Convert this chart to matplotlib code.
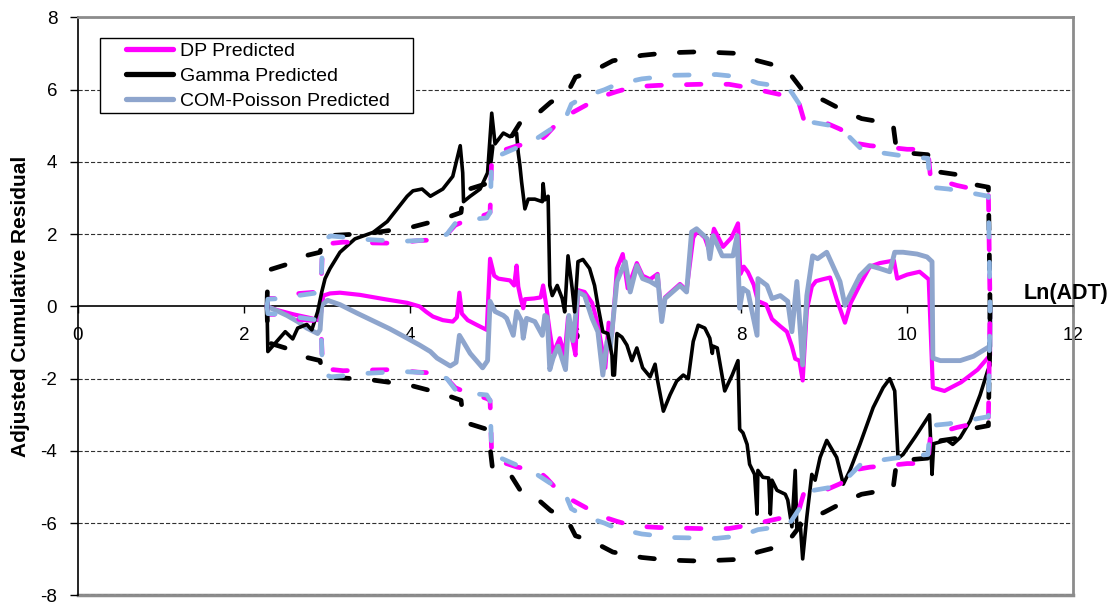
import matplotlib
matplotlib.use("Agg")
import matplotlib.pyplot as plt
from matplotlib.lines import Line2D
from matplotlib.patches import Rectangle
import numpy as np

plt.rcParams["font.family"] = ["Liberation Sans", "DejaVu Sans"]
plt.rcParams["axes.unicode_minus"] = False
plt.rcParams["lines.scale_dashes"] = False

# ---- Adjusted cumulative residuals vs Ln(ADT) ----
dp_x = [2.28, 2.40, 2.60, 2.80, 2.90, 2.93, 2.96, 3.04, 3.16, 3.40, 3.70, 3.97, 4.12, 4.20,
        4.28, 4.40, 4.52, 4.57, 4.60, 4.63, 4.70, 4.80, 4.93, 4.97, 5.02, 5.07, 5.21, 5.26,
        5.29, 5.31, 5.34, 5.37, 5.39, 5.50, 5.58, 5.61, 5.64, 5.69, 5.73, 5.81, 5.87, 5.91,
        5.96, 6.00, 6.03, 6.11, 6.20, 6.27, 6.36, 6.40, 6.44, 6.50, 6.57, 6.63, 6.74, 6.81,
        6.90, 6.99, 7.04, 7.08, 7.26, 7.34, 7.42, 7.47, 7.56, 7.62, 7.67, 7.78, 7.88, 7.96,
        7.99, 8.03, 8.08, 8.15, 8.20, 8.30, 8.37, 8.47, 8.55, 8.61, 8.65, 8.70, 8.74, 8.79,
        8.85, 8.90, 8.98, 9.07, 9.15, 9.25, 9.32, 9.43, 9.55, 9.67, 9.84, 9.88, 10.00, 10.15,
        10.26, 10.31, 10.45, 10.65, 10.85, 11.00, 11.00]
dp_y = [0.00, -0.10, -0.22, -0.32, -0.38, -0.20, 0.30, 0.36, 0.38, 0.32, 0.20, 0.10, 0.00, -0.15,
        -0.28, -0.38, -0.42, -0.30, 0.38, -0.20, -0.38, -0.50, -0.65, 1.32, 0.85, 0.77, 0.72, 0.58,
        1.13, 0.55, 0.22, -0.05, 0.20, 0.22, 0.25, 0.58, 0.14, -0.70, -1.30, -0.88, -1.35, -0.30,
        -0.90, -1.35, 0.45, 0.40, 0.10, -0.50, -1.70, -0.45, -0.80, 1.05, 1.45, 0.50, 1.20, 0.85,
        0.75, 0.90, -0.35, 0.25, 0.62, 0.45, 1.90, 2.10, 1.90, 1.50, 2.15, 1.65, 1.90, 2.30,
        0.90, 1.10, 0.95, 0.60, 0.15, 0.05, -0.35, -0.55, -0.70, -1.10, -1.45, -1.50, -2.05, -0.10,
        0.55, 0.70, 0.75, 0.80, 0.20, -0.45, 0.10, 0.60, 1.10, 1.20, 1.27, 0.77, 0.88, 0.96,
        0.75, -2.25, -2.34, -2.10, -1.75, -1.35, 0.00]

gamma_x = [2.28, 2.29, 2.50, 2.59, 2.65, 2.76, 2.82, 2.89, 2.94, 2.98, 3.04, 3.16, 3.34, 3.56,
           3.73, 3.97, 4.04, 4.15, 4.25, 4.40, 4.52, 4.61, 4.64, 4.65, 4.73, 4.85, 4.94, 4.99,
           5.03, 5.13, 5.21, 5.29, 5.31, 5.33, 5.35, 5.39, 5.43, 5.51, 5.60, 5.61, 5.63, 5.67,
           5.69, 5.72, 5.78, 5.84, 5.87, 5.91, 5.96, 5.99, 6.03, 6.09, 6.17, 6.23, 6.27, 6.33,
           6.39, 6.44, 6.45, 6.47, 6.50, 6.56, 6.62, 6.68, 6.74, 6.81, 6.90, 6.96, 6.99, 7.06,
           7.14, 7.22, 7.30, 7.36, 7.42, 7.48, 7.56, 7.62, 7.65, 7.66, 7.71, 7.80, 7.89, 7.96,
           7.98, 8.02, 8.07, 8.10, 8.16, 8.19, 8.20, 8.26, 8.33, 8.35, 8.37, 8.43, 8.53, 8.56,
           8.61, 8.65, 8.67, 8.71, 8.74, 8.79, 8.85, 8.89, 8.95, 9.03, 9.15, 9.23, 9.31, 9.43,
           9.59, 9.71, 9.79, 9.85, 9.89, 9.95, 10.10, 10.27, 10.30, 10.32, 10.48, 10.55, 10.64,
           10.76, 10.88, 10.97, 11.00, 11.00]
gamma_y = [0.00, -1.25, -0.70, -0.90, -0.60, -0.50, -0.65, -0.15, 0.40, 0.77, 1.05, 1.50, 1.87, 2.05,
           2.35, 3.05, 3.20, 3.25, 3.05, 3.25, 3.60, 4.45, 3.70, 2.90, 3.05, 3.25, 3.70, 5.35,
           4.50, 4.80, 4.70, 4.80, 4.25, 3.90, 3.45, 2.70, 2.97, 2.97, 2.90, 3.40, 2.95, 3.05,
           0.58, 0.30, 0.58, 0.22, -0.15, 1.40, 0.50, -0.15, 1.24, 1.30, 1.05, 0.58, 0.03, -0.70,
           -0.75, -1.35, -1.90, -1.90, -0.75, -0.85, -1.07, -1.50, -1.15, -1.70, -1.95, -1.60, -2.05, -2.90,
           -2.45, -2.07, -1.90, -2.00, -0.97, -0.52, -0.60, -0.88, -1.30, -1.10, -1.15, -2.34, -1.90, -1.50,
           -3.40, -3.50, -3.82, -4.37, -4.65, -5.75, -4.54, -4.73, -4.75, -5.75, -4.81, -5.09, -5.20, -5.36,
           -6.10, -4.54, -6.19, -6.00, -6.99, -5.83, -4.65, -4.81, -4.18, -3.71, -4.18, -4.92, -4.54, -3.82,
           -2.80, -2.25, -2.00, -2.34, -4.20, -4.10, -3.60, -3.00, -4.65, -3.80, -3.70, -3.82, -3.63,
           -3.17, -2.45, -1.79, -1.62, 0.00]

com_x = [2.28, 2.40, 2.52, 2.65, 2.76, 2.89, 2.92, 2.94, 3.01, 3.16, 3.36, 3.56, 3.76, 3.97,
         4.12, 4.25, 4.33, 4.49, 4.56, 4.60, 4.64, 4.73, 4.88, 4.94, 4.97, 5.03, 5.13, 5.17,
         5.25, 5.29, 5.35, 5.37, 5.41, 5.51, 5.60, 5.63, 5.66, 5.69, 5.73, 5.79, 5.88, 5.92,
         5.97, 6.03, 6.11, 6.20, 6.27, 6.33, 6.38, 6.42, 6.50, 6.60, 6.66, 6.74, 6.81, 6.90,
         6.98, 6.99, 7.04, 7.08, 7.26, 7.34, 7.40, 7.46, 7.59, 7.62, 7.66, 7.77, 7.90, 7.95,
         7.98, 8.02, 8.08, 8.19, 8.20, 8.31, 8.37, 8.47, 8.56, 8.61, 8.67, 8.74, 8.79, 8.86,
         8.92, 9.03, 9.19, 9.25, 9.43, 9.55, 9.67, 9.79, 9.85, 9.95, 10.12, 10.24, 10.30, 10.31,
         10.40, 10.64, 10.80, 11.00, 11.00]
com_y = [0.00, -0.12, -0.25, -0.42, -0.60, -0.75, -0.65, 0.03, 0.17, 0.05, -0.18, -0.40, -0.62, -0.88,
         -1.07, -1.25, -1.43, -1.65, -1.55, -0.80, -0.95, -1.30, -1.70, -1.50, 0.14, -0.14, -0.25, -0.33,
         -0.80, -0.14, -0.40, -0.88, -0.33, -0.42, -0.80, -0.25, -0.30, -1.75, -1.43, -1.10, -1.75, -0.25,
         -0.95, 0.40, 0.30, -0.33, -0.70, -1.90, -0.97, -1.15, 0.69, 1.24, 0.40, 1.13, 0.77, 0.69,
         0.58, 0.85, -0.42, 0.22, 0.58, 0.40, 2.06, 2.15, 1.87, 1.32, 1.96, 1.40, 1.40, 1.96,
         -0.05, 0.50, 0.40, -0.80, 0.77, 0.58, 0.22, 0.30, 0.14, -0.70, 0.69, -1.62, 0.30, 1.40,
         1.32, 1.50, 0.69, 0.03, 0.85, 1.13, 1.05, 0.96, 1.50, 1.50, 1.45, 1.37, 1.24, -1.43,
         -1.50, -1.50, -1.38, -1.10, 0.00]

# ---- Two-sigma limits (plotted as +/-) ----
dp_bx = [2.28, 2.29, 2.45, 2.62, 2.90, 2.93, 2.95, 3.20, 3.50, 3.80, 4.10, 4.35, 4.45, 4.55,
         4.65, 4.80, 4.93, 4.97, 4.99, 5.10, 5.30, 5.55, 5.65, 5.75, 5.95, 6.15, 6.30, 6.50,
         6.70, 7.00, 7.50, 7.85, 8.10, 8.30, 8.50, 8.68, 8.75, 9.00, 9.20, 9.30, 9.55, 9.80,
         10.00, 10.25, 10.28, 10.45, 10.60, 10.80, 10.98, 11.00]
dp_b = [0.00, 0.22, 0.22, 0.35, 0.40, 0.45, 1.72, 1.78, 1.76, 1.75, 1.82, 1.85, 2.00, 2.25,
        2.35, 2.45, 2.55, 2.60, 4.15, 4.30, 4.45, 4.55, 4.75, 5.00, 5.35, 5.60, 5.80, 5.95,
        6.08, 6.12, 6.15, 6.15, 6.05, 5.95, 5.85, 5.75, 5.20, 5.10, 4.90, 4.55, 4.45, 4.40,
        4.35, 4.35, 3.60, 3.45, 3.35, 3.25, 3.10, 0.00]

gamma_bx = [2.28, 2.29, 2.50, 2.70, 2.92, 2.95, 3.10, 3.50, 4.00, 4.40, 4.62, 4.65, 4.93, 4.97,
            5.00, 5.20, 5.35, 5.55, 5.70, 5.90, 6.00, 6.20, 6.45, 6.80, 7.10, 7.50, 8.00, 8.20,
            8.45, 8.60, 8.75, 9.00, 9.25, 9.45, 9.70, 9.83, 9.87, 10.00, 10.25, 10.30, 10.60,
            10.75, 10.98, 11.00]
gamma_b = [0.00, 1.00, 1.15, 1.38, 1.50, 1.90, 1.97, 2.02, 2.18, 2.42, 2.60, 3.20, 3.40, 3.90,
           4.50, 4.60, 5.15, 5.35, 5.65, 5.90, 6.35, 6.50, 6.80, 6.95, 7.02, 7.05, 7.00, 6.80,
           6.65, 6.40, 5.95, 5.70, 5.40, 5.20, 5.10, 5.05, 4.35, 4.25, 4.20, 3.75, 3.65,
           3.40, 3.30, 0.00]

com_bx = [2.28, 2.29, 2.45, 2.65, 2.90, 2.93, 2.95, 3.05, 3.30, 3.50, 3.90, 4.30, 4.45, 4.55,
          4.70, 4.93, 4.97, 4.99, 5.10, 5.30, 5.50, 5.70, 5.85, 5.95, 6.10, 6.35, 6.50, 6.80,
          7.20, 7.70, 8.00, 8.20, 8.45, 8.60, 8.70, 8.85, 9.10, 9.30, 9.45, 9.70, 10.00, 10.25,
          10.28, 10.50, 10.75, 10.98, 11.00]
com_b = [0.00, 0.20, 0.22, 0.30, 0.38, 0.50, 1.85, 1.95, 1.90, 1.85, 1.80, 1.85, 2.00, 2.30,
         2.40, 2.45, 2.60, 4.10, 4.20, 4.40, 4.60, 4.90, 5.05, 5.60, 5.80, 6.00, 6.15, 6.30,
         6.40, 6.42, 6.35, 6.18, 6.10, 5.95, 5.60, 5.10, 5.00, 4.70, 4.35, 4.25, 4.15, 4.10,
         3.30, 3.25, 3.15, 3.05, 0.00]

x_ticks = [0, 2, 4, 6, 8, 10, 12]
y_ticks = [-8, -6, -4, -2, 0, 2, 4, 6, 8]
series_labels = ["DP Predicted", "Gamma Predicted", "COM-Poisson Predicted"]

C_DP = "#FF00FF"
C_GM = "#000000"
C_COM = "#8EA5CD"
C_COM_B = "#8DB4E2"

fig = plt.figure(figsize=(11.17, 6.06), dpi=100)
ax = fig.add_axes([0.0698, 0.0175, 0.8908, 0.9537])
ax.set_xlim(0, 12)
ax.set_ylim(-8, 8)

# dotted horizontal grid
for yv in y_ticks:
    if yv != 0:
        ax.axhline(yv, color="#303030", lw=0.8, ls=(0, (3, 1.5)), zorder=1)

solid_kw = dict(solid_capstyle="round", solid_joinstyle="round")
ax.plot(dp_x, dp_y, color=C_DP, lw=3.0, zorder=3, **solid_kw)
ax.plot(com_x, com_y, color=C_COM, lw=3.5, zorder=4, **solid_kw)
ax.plot(gamma_x, gamma_y, color=C_GM, lw=2.6, zorder=5, **solid_kw)

dash_kw = dict(dashes=(10.5, 18), dash_capstyle="round", dash_joinstyle="round", lw=3.4)
for bx, b, col, z in [(dp_bx, dp_b, C_DP, 6), (gamma_bx, gamma_b, C_GM, 7),
                      (com_bx, com_b, C_COM_B, 8)]:
    bvals = np.array(b)
    ax.plot(bx, bvals, color=col, zorder=z, **dash_kw)
    ax.plot(bx, -bvals, color=col, zorder=z, **dash_kw)

# axes: horizontal axis crosses at zero, grey plot-area border
ax.spines["bottom"].set_position(("data", 0))
ax.spines["bottom"].set_color("black")
ax.spines["bottom"].set_linewidth(1.2)
ax.spines["left"].set_color("black")
ax.spines["left"].set_linewidth(1.2)
for s in ("top", "right"):
    ax.spines[s].set_color("#8c8c8c")
    ax.spines[s].set_linewidth(2)
ax.plot([0, 1], [0, 0], transform=ax.transAxes, color="#8c8c8c", lw=2.5, clip_on=False, zorder=0)

ax.set_xticks(x_ticks)
ax.set_yticks(y_ticks)
ax.tick_params(axis="x", direction="out", length=5, width=1, pad=10, labelsize=13.5)
ax.tick_params(axis="y", direction="out", length=6, width=1, pad=9, labelsize=13.5)

ax.set_ylabel("Adjusted Cumulative Residual", fontsize=15, fontweight="bold")
ax.yaxis.label.set_verticalalignment("center")
ax.yaxis.label.set_horizontalalignment("center")
ax.yaxis.set_label_coords(-0.058, 0.5)
ax.text(11.92, 0.36, "Ln(ADT)", fontsize=15.5, fontweight="bold", ha="center", va="center",
        clip_on=False)

# legend: frame drawn as its own box, entries placed inside it
ax.add_patch(Rectangle((0.0221, 0.8354), 0.3146, 0.1296, transform=ax.transAxes,
                       facecolor="white", edgecolor="black", lw=1.0, zorder=9))
handles = [Line2D([0], [0], color=C_DP, lw=3.8, solid_capstyle="round"),
           Line2D([0], [0], color=C_GM, lw=3.8, solid_capstyle="round"),
           Line2D([0], [0], color=C_COM, lw=3.8, solid_capstyle="round")]
leg = ax.legend(handles, series_labels, loc="upper left", bbox_to_anchor=(0.0478, 0.957),
                borderaxespad=0, borderpad=0, fontsize=14, frameon=False,
                handlelength=2.46, handletextpad=0.35, labelspacing=0.38)
leg.set_zorder(10)

fig.savefig("out.png", dpi=100)
